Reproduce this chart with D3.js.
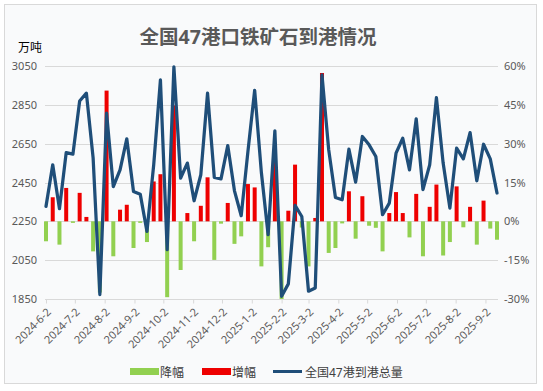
<!DOCTYPE html>
<html>
<head>
<meta charset="utf-8">
<script src="https://cdn.jsdelivr.net/npm/d3@7"></script>
<style>
  html, body { margin: 0; padding: 0; background: #ffffff; }
  svg { display: block; }
  text { font-family: "Noto Sans", "Noto Sans CJK SC", sans-serif; }
</style>
</head>
<body>
<svg id="chart" width="543" height="391"></svg>
<script>
// ---------------- DATA ----------------
const dates = [
  "2024-06-02","2024-06-09","2024-06-16","2024-06-23","2024-06-30","2024-07-07","2024-07-14","2024-07-21",
  "2024-07-28","2024-08-04","2024-08-11","2024-08-18","2024-08-25","2024-09-01","2024-09-08","2024-09-15",
  "2024-09-22","2024-09-29","2024-10-06","2024-10-13","2024-10-20","2024-10-27","2024-11-03","2024-11-10",
  "2024-11-17","2024-11-24","2024-12-01","2024-12-08","2024-12-15","2024-12-22","2024-12-29","2025-01-05",
  "2025-01-12","2025-01-19","2025-01-26","2025-02-02","2025-02-09","2025-02-16","2025-02-23","2025-03-02",
  "2025-03-09","2025-03-16","2025-03-23","2025-03-30","2025-04-06","2025-04-13","2025-04-20","2025-04-27",
  "2025-05-04","2025-05-11","2025-05-18","2025-05-25","2025-06-01","2025-06-08","2025-06-15","2025-06-22",
  "2025-06-29","2025-07-06","2025-07-13","2025-07-20","2025-07-27","2025-08-03","2025-08-10","2025-08-17",
  "2025-08-24","2025-08-31","2025-09-07","2025-09-14"
];

// 全国47港到港总量 (万吨)
const arrivals = [
  2327, 2541, 2315, 2604, 2596, 2870, 2910, 2577,
  1873, 2807, 2429, 2515, 2675, 2404, 2390, 2198,
  2541, 2978, 2104, 3046, 2473, 2550, 2356, 2490,
  2910, 2476, 2469, 2640, 2407, 2279, 2610, 2925,
  2500, 2181, 2716, 1864, 1928, 2332, 2275, 1890,
  1907, 3004, 2618, 2373, 2361, 2622, 2452, 2687,
  2644, 2584, 2284, 2344, 2601, 2678, 2515, 2778,
  2413, 2541, 2887, 2550, 2318, 2627, 2572, 2707,
  2459, 2647, 2572, 2396
];

// 增幅 (%)
const increase = [
  0, 9.3, 0, 12.9, 0, 11.0, 1.7, 0,
  0, 50.5, 0, 4.5, 6.4, 0, 0, 0,
  15.4, 18.2, 0, 44.8, 0, 3.2, 0, 6.0,
  17.0, 0, 0, 7.1, 0, 0, 14.4, 13.1,
  0, 0, 24.5, 0, 4.1, 21.9, 0, 0,
  1.3, 57.3, 0, 0, 0, 11.6, 0, 9.7,
  0, 0, 0, 3.2, 11.3, 3.2, 0, 10.6,
  0, 5.6, 14.2, 0, 0, 13.5, 0, 5.6,
  0, 8.0, 0, 0
];

// 降幅 (%)
const decrease = [
  -7.7, 0, -9.0, 0, -0.6, 0, 0, -11.6,
  -27.5, 0, -13.5, 0, 0, -10.3, -0.6, -8.0,
  0, 0, -29.3, 0, -18.8, 0, -7.7, 0,
  0, -14.9, -0.9, 0, -8.7, -5.8, 0, 0,
  -17.4, -10.0, 0, -30.0, 0, 0, -2.4, -17.4,
  0, 0, -12.2, -10.3, -0.8, 0, -6.7, 0,
  -1.7, -2.5, -11.6, 0, 0, 0, -6.2, 0,
  -13.5, 0, 0, -13.2, -8.0, 0, -2.3, 0,
  -9.0, 0, -2.8, -7.1
];

const tickLabels = ["2024-6-2","2024-7-2","2024-8-2","2024-9-2","2024-10-2","2024-11-2","2024-12-2",
  "2025-1-2","2025-2-2","2025-3-2","2025-4-2","2025-5-2","2025-6-2","2025-7-2","2025-8-2","2025-9-2"];
const leftTicks = [1850, 2050, 2250, 2450, 2650, 2850, 3050];
const rightTicks = [-30, -15, 0, 15, 30, 45, 60];

const title = "全国47港口铁矿石到港情况";
const unitLabel = "万吨";
const seriesNames = ["降幅", "增幅", "全国47港到港总量"];

// ---------------- CHART ----------------
const svg = d3.select("#chart");
const parse = d3.timeParse("%Y-%m-%d");
const parseTick = d3.timeParse("%Y-%m-%d");
const dts = dates.map(parse);
const tickDates = tickLabels.map(parseTick);

const colors = { dec: "#92d050", inc: "#ee0000", line: "#1f4e79", grid: "#d9d9d9", text: "#595959" };

// background + border
svg.append("rect").attr("x", 4.5).attr("y", 4.5).attr("width", 532).attr("height", 379)
  .attr("fill", "#f9fafb").attr("stroke", "#d9d9d9").attr("stroke-width", 1);

const x = d3.scaleTime().domain([dts[0], dts[dts.length - 1]]).range([46, 497]);
const yL = d3.scaleLinear().domain([1850, 3050]).range([299, 66]);
const yR = d3.scaleLinear().domain([-30, 60]).range([299, 66]);

// gridlines
svg.append("g").selectAll("line").data(leftTicks).join("line")
  .attr("x1", 45).attr("x2", 498)
  .attr("y1", d => Math.round(yL(d)) + 0.5).attr("y2", d => Math.round(yL(d)) + 0.5)
  .attr("stroke", colors.grid).attr("stroke-width", 1);

// x axis
const xAxis = d3.axisBottom(x).tickValues(tickDates).tickSize(4).tickFormat("");
const gx = svg.append("g").attr("transform", `translate(0,${Math.round(yL(1850)) + 0.5})`).call(xAxis);
gx.select(".domain").attr("stroke", colors.grid).attr("d", "M45,0H498");
gx.selectAll(".tick line").attr("stroke", colors.grid);

svg.append("g").selectAll("text").data(tickDates).join("text")
  .attr("transform", (d) => `translate(${x(d) + 3},${310}) rotate(-45)`)
  .attr("text-anchor", "end").attr("dy", "0.35em")
  .attr("font-size", 11).attr("fill", colors.text)
  .text((d, i) => tickLabels[i]);

// left axis labels
const gyl = svg.append("g").attr("transform", "translate(45,0)")
  .call(d3.axisLeft(yL).tickValues(leftTicks).tickSize(0).tickPadding(8).tickFormat(d3.format("d")));
gyl.select(".domain").remove();
gyl.selectAll("text").attr("font-size", 11).attr("fill", colors.text)
  .attr("font-family", "Noto Sans, sans-serif");

// right axis labels
const gyr = svg.append("g").attr("transform", "translate(498,0)")
  .call(d3.axisRight(yR).tickValues(rightTicks).tickSize(0).tickPadding(6).tickFormat(d => d + "%"));
gyr.select(".domain").remove();
gyr.selectAll("text").attr("font-size", 11).attr("fill", colors.text)
  .attr("font-family", "Noto Sans, sans-serif");

// bars
const bw = 4;
svg.append("g").selectAll("rect").data(decrease.map((v, i) => ({ v, d: dts[i] })).filter(o => o.v < 0)).join("rect")
  .attr("x", o => x(o.d) - bw / 2).attr("width", bw)
  .attr("y", yR(0)).attr("height", o => yR(o.v) - yR(0))
  .attr("fill", colors.dec);
svg.append("g").selectAll("rect").data(increase.map((v, i) => ({ v, d: dts[i] })).filter(o => o.v > 0)).join("rect")
  .attr("x", o => x(o.d) - bw / 2).attr("width", bw)
  .attr("y", o => yR(o.v)).attr("height", o => yR(0) - yR(o.v))
  .attr("fill", colors.inc);

// line
const line = d3.line().x((d, i) => x(dts[i])).y(d => yL(d));
svg.append("path").datum(arrivals).attr("d", line)
  .attr("fill", "none").attr("stroke", colors.line).attr("stroke-width", 3.25)
  .attr("stroke-linejoin", "round").attr("stroke-linecap", "round");

// title
svg.append("text").attr("x", 258).attr("y", 44).attr("text-anchor", "middle")
  .attr("font-family", "Noto Sans CJK SC, sans-serif")
  .attr("font-size", 19.5).attr("font-weight", "bold").attr("fill", colors.text)
  .text(title);

// unit
svg.append("text").attr("x", 18).attr("y", 52)
  .attr("font-family", "Noto Sans CJK SC, sans-serif")
  .attr("font-size", 12).attr("fill", "#000000").text(unitLabel);

// legend
const lg = svg.append("g").attr("font-family", "Noto Sans CJK SC, sans-serif").attr("font-size", 12);
lg.append("rect").attr("x", 130).attr("y", 368).attr("width", 29).attr("height", 7).attr("fill", colors.dec);
lg.append("text").attr("x", 160).attr("y", 376.5).attr("fill", "#404040").text(seriesNames[0]);
lg.append("rect").attr("x", 202).attr("y", 368).attr("width", 29).attr("height", 7).attr("fill", colors.inc);
lg.append("text").attr("x", 232).attr("y", 376.5).attr("fill", "#404040").text(seriesNames[1]);
lg.append("line").attr("x1", 273).attr("x2", 302).attr("y1", 371.5).attr("y2", 371.5)
  .attr("stroke", colors.line).attr("stroke-width", 3);
lg.append("text").attr("x", 305).attr("y", 376.5).attr("fill", "#404040").text(seriesNames[2]);
</script>
</body>
</html>
